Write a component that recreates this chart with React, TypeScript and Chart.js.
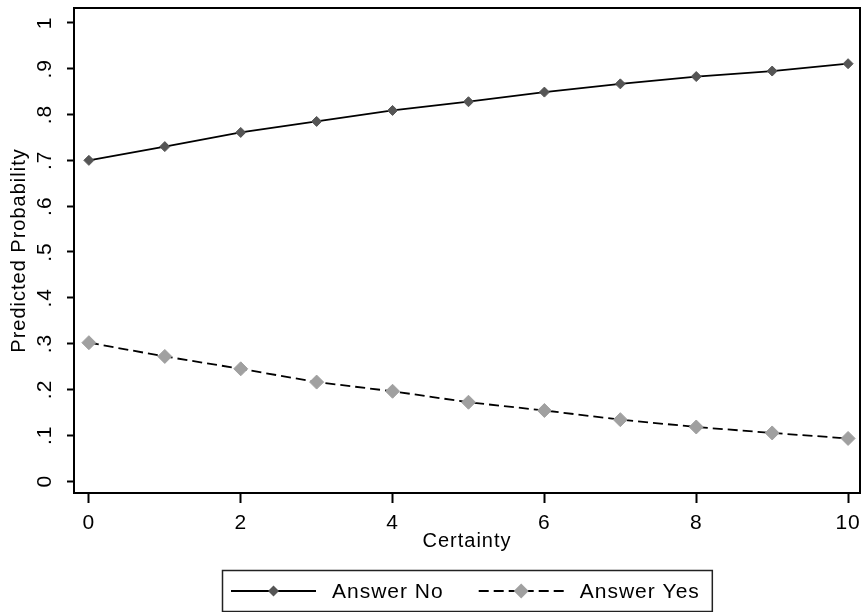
import React, { useEffect, useRef } from 'react';
import { Chart, registerables } from 'chart.js';

Chart.register(...registerables);

// ---- data ----
const certainty = [0, 1, 2, 3, 4, 5, 6, 7, 8, 9, 10];
const answerNo = [0.7, 0.73, 0.761, 0.785, 0.809, 0.828, 0.849, 0.867, 0.883, 0.895, 0.911];
const answerYes = [0.302, 0.272, 0.245, 0.216, 0.196, 0.172, 0.154, 0.134, 0.118, 0.105, 0.093];
const seriesLabels = ['Answer No', 'Answer Yes'];
const xTicks = [0, 2, 4, 6, 8, 10];
const yTicks = [0, 0.1, 0.2, 0.3, 0.4, 0.5, 0.6, 0.7, 0.8, 0.9, 1];
const yTickLabels = ['0', '.1', '.2', '.3', '.4', '.5', '.6', '.7', '.8', '.9', '1'];
const xTitle = 'Certainty';
const yTitle = 'Predicted Probability';

const FONT = '"Liberation Sans", Arial, sans-serif';
const SPACING = '1px';

const spacingPlugin = {
  id: 'spacing',
  beforeUpdate(chart: any) {
    chart.ctx.letterSpacing = SPACING;
  },
  beforeDraw(chart: any) {
    chart.ctx.letterSpacing = SPACING;
  },
};

const framePlugin = {
  id: 'frame',
  afterDraw(chart: any) {
    const { ctx, chartArea } = chart;
    ctx.save();
    ctx.strokeStyle = '#000';
    ctx.lineWidth = 2;
    ctx.beginPath();
    ctx.moveTo(chartArea.left, chartArea.top);
    ctx.lineTo(chartArea.right, chartArea.top);
    ctx.lineTo(chartArea.right, chartArea.bottom);
    ctx.stroke();
    ctx.restore();
  },
};

const legendPlugin = {
  id: 'customLegend',
  afterDraw(chart: any) {
    const { ctx, chartArea } = chart;
    const datasets = chart.data.datasets;
    ctx.save();
    ctx.letterSpacing = SPACING;
    ctx.font = `21px ${FONT}`;
    const sampleW = 85;
    const textGap = 16;
    const itemGap = 35;
    const padL = 9;
    const padR = 12;
    const widths = datasets.map((d: any) => ctx.measureText(d.label).width);
    let total = padL + padR;
    widths.forEach((w: number, i: number) => {
      total += sampleW + textGap + w + (i < widths.length - 1 ? itemGap : 0);
    });
    const cx = (chartArea.left + chartArea.right) / 2;
    const boxL = Math.round(cx - total / 2);
    const boxT = 570;
    const boxB = 611;
    ctx.strokeStyle = '#222';
    ctx.lineWidth = 1.5;
    ctx.strokeRect(boxL + 0.5, boxT + 0.5, total, boxB - boxT);
    const lineY = 591;
    let x = boxL + padL;
    datasets.forEach((d: any, i: number) => {
      ctx.save();
      ctx.strokeStyle = d.borderColor;
      ctx.lineWidth = d.borderWidth;
      ctx.setLineDash(d.borderDash || []);
      ctx.beginPath();
      ctx.moveTo(x, lineY);
      ctx.lineTo(x + sampleW, lineY);
      ctx.stroke();
      ctx.setLineDash([]);
      const mx = x + sampleW / 2;
      const r = d.pointRadius + 0.5;
      ctx.fillStyle = d.pointBackgroundColor;
      ctx.beginPath();
      ctx.moveTo(mx - r, lineY);
      ctx.lineTo(mx, lineY - r);
      ctx.lineTo(mx + r, lineY);
      ctx.lineTo(mx, lineY + r);
      ctx.closePath();
      ctx.fill();
      ctx.restore();
      ctx.fillStyle = '#000';
      ctx.textAlign = 'left';
      ctx.textBaseline = 'alphabetic';
      ctx.fillText(d.label, x + sampleW + textGap, 598);
      x += sampleW + textGap + widths[i] + itemGap;
    });
    ctx.restore();
  },
};

export default function App() {
  const ref = useRef<HTMLCanvasElement | null>(null);
  useEffect(() => {
    if (!ref.current) return;
    const chart = new Chart(ref.current, {
      type: 'line',
      data: {
        datasets: [
          {
            label: seriesLabels[0],
            data: certainty.map((c, i) => ({ x: c, y: answerNo[i] })),
            borderColor: '#000',
            borderWidth: 1.8,
            pointStyle: 'rectRot',
            pointRadius: 5,
            pointBackgroundColor: '#555555',
            pointBorderColor: '#555555',
            pointBorderWidth: 1,
            tension: 0,
          },
          {
            label: seriesLabels[1],
            data: certainty.map((c, i) => ({ x: c, y: answerYes[i] })),
            borderColor: '#000',
            borderWidth: 1.8,
            borderDash: [10, 5],
            pointStyle: 'rectRot',
            pointRadius: 7,
            pointBackgroundColor: '#a0a0a0',
            pointBorderColor: '#a0a0a0',
            pointBorderWidth: 1,
            tension: 0,
          },
        ],
      },
      options: {
        animation: false,
        responsive: false,
        devicePixelRatio: 1,
        layout: { padding: { left: 0, right: 2, top: 6, bottom: 59 } },
        plugins: { legend: { display: false }, tooltip: { enabled: false } },
        scales: {
          x: {
            type: 'linear',
            min: -0.196,
            max: 10.157,
            afterBuildTicks: (s: any) => {
              s.ticks = xTicks.map((v) => ({ value: v }));
            },
            afterFit: (s: any) => {
              s.height = 60;
              s.paddingLeft = 0;
              s.paddingRight = 0;
            },
            ticks: {
              color: '#000',
              font: { family: FONT, size: 21 },
              padding: 8,
              maxRotation: 0,
              callback: (v: any) => String(v),
            },
            grid: {
              drawOnChartArea: false,
              drawTicks: true,
              tickLength: 10,
              tickWidth: 2,
              tickColor: '#000',
            },
            border: { display: true, color: '#000', width: 2 },
            title: {
              display: true,
              text: xTitle,
              color: '#000',
              font: { family: FONT, size: 20 },
              padding: { top: 0, bottom: 0 },
            },
          },
          y: {
            type: 'linear',
            min: -0.0261,
            max: 1.0326,
            afterBuildTicks: (s: any) => {
              s.ticks = yTicks.map((v) => ({ value: v }));
            },
            afterFit: (s: any) => {
              s.width = 74;
              s.paddingTop = 0;
              s.paddingBottom = 0;
            },
            ticks: {
              color: '#000',
              font: { family: FONT, size: 21 },
              padding: 12,
              minRotation: 90,
              maxRotation: 90,
              crossAlign: 'center',
              callback: (v: any) => {
                const i = yTicks.findIndex((t) => Math.abs(t - v) < 1e-9);
                return i >= 0 ? yTickLabels[i] : '';
              },
            },
            grid: {
              drawOnChartArea: false,
              drawTicks: true,
              tickLength: 7,
              tickWidth: 2,
              tickColor: '#000',
            },
            border: { display: true, color: '#000', width: 2 },
            title: {
              display: true,
              text: yTitle,
              color: '#000',
              font: { family: FONT, size: 20 },
              padding: { top: 7, bottom: 0 },
            },
          },
        },
      },
      plugins: [spacingPlugin, framePlugin, legendPlugin],
    } as any);
    return () => chart.destroy();
  }, []);
  return (
    <div style={{ position: 'fixed', left: 0, top: 0, width: 868, height: 612, background: '#fff' }}>
      <canvas ref={ref} width={868} height={612} style={{ display: 'block', width: 868, height: 612 }} />
    </div>
  );
}
